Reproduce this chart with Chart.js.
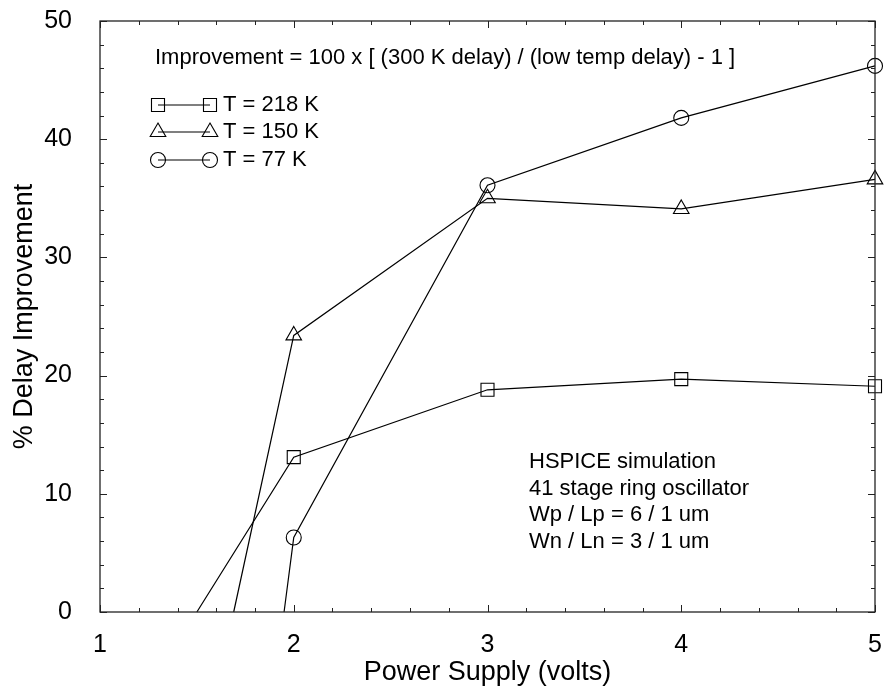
<!DOCTYPE html>
<html>
<head>
<meta charset="utf-8">
<script src="https://cdn.jsdelivr.net/npm/chart.js@4/dist/chart.umd.min.js"></script>
<style>
  html, body { margin: 0; padding: 0; background: #fff; }
  #wrap { width: 886px; height: 692px; position: relative; }
</style>
</head>
<body>
<div id="wrap"><canvas id="c"></canvas></div>
<script>
"use strict";
// supply voltage (x) and % delay improvement (y) per temperature
var volts218 = [1.5, 2, 3, 4, 5];
var improve218 = [0, 13.1, 18.8, 19.7, 19.1];
var volts150 = [1.69, 2, 3, 4, 5];
var improve150 = [0, 23.4, 35.0, 34.1, 36.6];
var volts77 = [1.95, 2, 3, 4, 5];
var improve77 = [0, 6.3, 36.1, 41.8, 46.2];

var seriesNames = ["T = 218 K", "T = 150 K", "T = 77 K"];
var xTicks = [1, 2, 3, 4, 5];
var yTicks = [0, 10, 20, 30, 40, 50];

var formulaText = "Improvement = 100 x [ (300 K delay) / (low temp delay) - 1 ]";
var noteLines = ["HSPICE simulation", "41 stage ring oscillator", "Wp / Lp = 6 / 1 um", "Wn / Ln = 3 / 1 um"];

var FONT = "'Liberation Sans', Arial, Helvetica, sans-serif";

function toPoints(xs, ys) {
  var out = [];
  for (var i = 0; i < xs.length; i++) out.push({x: xs[i], y: ys[i]});
  return out;
}

function makeSet(label, xs, ys, style, r) {
  return {
    label: label,
    data: toPoints(xs, ys),
    showLine: true,
    borderColor: "#000",
    borderWidth: 1.2,
    backgroundColor: "rgba(0,0,0,0)",
    pointStyle: style,
    pointRadius: ys.map(function (v, i) { return i === 0 ? 0 : r; }),
    pointBorderWidth: 1.1,
    pointBorderColor: "#000",
    pointBackgroundColor: "rgba(0,0,0,0)",
    tension: 0,
    clip: false
  };
}

var decor = {
  id: "decor",
  afterDraw: function (chart) {
    var ctx = chart.ctx, a = chart.chartArea;
    var xs = chart.scales.x, ys = chart.scales.y;
    ctx.save();
    ctx.strokeStyle = "#222";
    ctx.lineWidth = 1.3;
    ctx.strokeRect(a.left, a.top, a.right - a.left, a.bottom - a.top);
    ctx.lineWidth = 1;
    ctx.beginPath();
    var v, p, len;
    for (v = 1; v <= 5.0001; v += 0.2) {
      p = Math.round(xs.getPixelForValue(v)) + 0.5;
      len = Math.abs(v - Math.round(v)) < 0.01 ? 7 : 4;
      ctx.moveTo(p, a.bottom); ctx.lineTo(p, a.bottom - len);
      ctx.moveTo(p, a.top); ctx.lineTo(p, a.top + len);
    }
    for (v = 0; v <= 50.001; v += 2) {
      p = Math.round(ys.getPixelForValue(v)) + 0.5;
      len = v % 10 === 0 ? 7 : 4;
      ctx.moveTo(a.left, p); ctx.lineTo(a.left + len, p);
      ctx.moveTo(a.right, p); ctx.lineTo(a.right - len, p);
    }
    ctx.stroke();

    ctx.fillStyle = "#000";
    ctx.font = "22px " + FONT;
    ctx.textBaseline = "middle";
    ctx.textAlign = "left";
    ctx.fillText(formulaText, 155, 58);

    // legend: marker - line - marker, then label
    var rows = [105, 132, 160];
    chart.data.datasets.forEach(function (ds, i) {
      var y = rows[i];
      ctx.strokeStyle = "#000";
      ctx.lineWidth = 1.2;
      ctx.beginPath();
      ctx.moveTo(158, y); ctx.lineTo(210, y);
      ctx.stroke();
      var r = ds.pointRadius[1];
      var opts = {pointStyle: ds.pointStyle, radius: r, borderWidth: 1.1, rotation: 0};
      ctx.lineWidth = 1.1;
      ctx.fillStyle = "rgba(0,0,0,0)";
      [158, 210].forEach(function (x) {
        Chart.helpers.drawPoint(ctx, opts, x, y);
      });
      ctx.fillStyle = "#000";
      ctx.fillText(ds.label, 223, y);
    });

    noteLines.forEach(function (t, i) {
      ctx.fillText(t, 529, 462 + i * 26.5);
    });
    ctx.restore();
  }
};

new Chart(document.getElementById("c"), {
  type: "scatter",
  data: {
    datasets: [
      makeSet(seriesNames[0], volts218, improve218, "rect", 9.2),
      makeSet(seriesNames[1], volts150, improve150, "triangle", 9),
      makeSet(seriesNames[2], volts77, improve77, "circle", 7.5)
    ]
  },
  options: {
    responsive: true,
    maintainAspectRatio: false,
    animation: false,
    layout: {padding: {top: 21, right: 11, left: 0, bottom: 0}},
    plugins: {legend: {display: false}, tooltip: {enabled: false}},
    scales: {
      x: {
        type: "linear", min: 1, max: 5,
        grid: {display: false}, border: {display: false},
        afterBuildTicks: function (s) { s.ticks = xTicks.map(function (v) { return {value: v}; }); },
        afterFit: function (s) { s.height = 80; s.paddingLeft = 0; s.paddingRight = 0; },
        ticks: {color: "#000", padding: 10, maxRotation: 0, font: {family: FONT, size: 25}},
        title: {display: true, text: "Power Supply (volts)", color: "#000", padding: {top: 0, bottom: 3}, font: {family: FONT, size: 27}}
      },
      y: {
        type: "linear", min: 0, max: 50,
        grid: {display: false}, border: {display: false},
        afterBuildTicks: function (s) { s.ticks = yTicks.map(function (v) { return {value: v}; }); },
        afterFit: function (s) { s.width = 100; s.paddingTop = 0; s.paddingBottom = 0; },
        ticks: {color: "#000", padding: 20, font: {family: FONT, size: 25}},
        title: {display: true, text: "% Delay Improvement", color: "#000", padding: {top: 8, bottom: 0}, font: {family: FONT, size: 27}}
      }
    }
  },
  plugins: [decor]
});
</script>
</body>
</html>
